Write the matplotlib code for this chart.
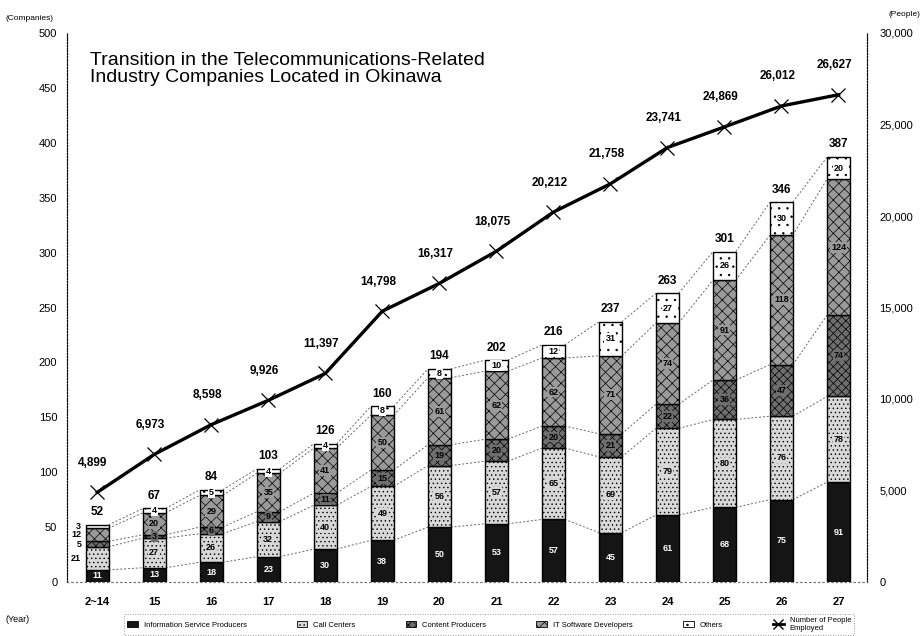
import numpy as np
import matplotlib
matplotlib.use('Agg')
import matplotlib.pyplot as plt
from matplotlib.patches import Patch
from matplotlib.lines import Line2D

plt.rcParams['font.family'] = ['Liberation Sans', 'DejaVu Sans']

years = ['2~14', '15', '16', '17', '18', '19', '20', '21', '22', '23', '24', '25', '26', '27']

# companies by segment, bottom to top
info_service = [11, 13, 18, 23, 30, 38, 50, 53, 57, 45, 61, 68, 75, 91]
call_centers = [21, 27, 26, 32, 40, 49, 56, 57, 65, 69, 79, 80, 76, 78]
content = [5, 3, 6, 9, 11, 15, 19, 20, 20, 21, 22, 36, 47, 74]
software = [12, 20, 29, 35, 41, 50, 61, 62, 62, 71, 74, 91, 118, 124]
others = [3, 4, 5, 4, 4, 8, 8, 10, 12, 31, 27, 26, 30, 20]
totals = [52, 67, 84, 103, 126, 160, 194, 202, 216, 237, 263, 301, 346, 387]

# number of people employed
people = [4899, 6973, 8598, 9926, 11397, 14798, 16317, 18075, 20212, 21758, 23741, 24869, 26012, 26627]

seg_names = ['Information Service Producers', 'Call Centers', 'Content Producers',
             'IT Software Developers', 'Others']
seg_colors = ['#151515', '#d8d8d8', '#6e6e6e', '#9a9a9a', '#ffffff']
seg_hatch = [None, '....', 'xxxx', 'xxx', '..']
seg_text = ['white', 'black', 'black', 'black', 'black']


def main():
    fig = plt.figure(figsize=(9.23, 6.36), dpi=100)
    # axes box: x 67..867 px, y 33..582 px
    ax = fig.add_axes([67 / 923, 54 / 636, 800 / 923, 549 / 636])
    ax2 = ax.twinx()

    x = np.arange(len(years))
    w = 0.40
    segs = [info_service, call_centers, content, software, others]

    plt.rcParams['hatch.color'] = '#444444'
    plt.rcParams['hatch.linewidth'] = 0.5

    bottom = np.zeros(len(years))
    levels = []
    for vals, col, hat, tc in zip(segs, seg_colors, seg_hatch, seg_text):
        vals = np.array(vals)
        ax.bar(x, vals, w, bottom=bottom, color=col, hatch=hat,
               edgecolor='black', linewidth=1.0, zorder=3)
        for i, v in enumerate(vals):
            yc = bottom[i] + v / 2
            if i == 0 and tc == 'black':
                # first bar is too thin, labels sit on the left
                ax.text(x[i] - w / 2 - 0.08, yc, str(v), ha='right', va='center',
                        fontsize=6.5, fontweight='bold')
            else:
                ax.text(x[i], yc, str(v), ha='center', va='center', fontsize=6.5,
                        fontweight='bold', color=tc, zorder=4,
                        bbox=dict(boxstyle='square,pad=0.1', fc=col, ec='none'))
        bottom = bottom + vals
        levels.append(bottom.copy())

    # dotted guides between neighbouring bars
    for lev in levels:
        for i in range(len(years) - 1):
            ax.plot([x[i] + w / 2, x[i + 1] - w / 2], [lev[i], lev[i + 1]],
                    ls=(0, (2, 2)), color='#666666', lw=0.7, zorder=2)

    for i, t in enumerate(totals):
        ax.text(x[i], t + 6, str(t), ha='center', va='bottom', fontsize=8.5,
                fontweight='bold')

    ax2.plot(x, people, color='black', lw=2.4, marker='x', ms=10, mew=0.9, zorder=5)
    for i, p in enumerate(people):
        ax2.annotate('{:,}'.format(p), (x[i], p), xytext=(-3, 17),
                     textcoords='offset points', ha='center', va='bottom',
                     fontsize=8.5, fontweight='bold')

    ax.set_xlim(-0.53, 13.5)
    ax.set_ylim(0, 500)
    ax.set_yticks(np.arange(0, 501, 50))
    ax2.set_ylim(0, 30000)
    ax2.set_yticks(np.arange(0, 30001, 5000))
    ax2.set_yticklabels(['{:,}'.format(v) for v in range(0, 30001, 5000)])
    ax.set_xticks(x)
    ax.set_xticklabels(years, fontweight='bold')

    for a in (ax, ax2):
        a.tick_params(axis='both', length=0, labelsize=8, pad=7)
        a.spines['top'].set_visible(False)
        a.spines['bottom'].set_linestyle((0, (1, 3)))
        a.spines['bottom'].set_color('#777777')
        a.spines['left'].set_linestyle((0, (1, 1.5)))
        a.spines['right'].set_linestyle((0, (1, 1.5)))
        a.spines['left'].set_linewidth(0.8)
        a.spines['right'].set_linewidth(0.8)
    ax.tick_params(axis='x', pad=11)
    ax2.tick_params(axis='y', pad=9)

    fig.text(0.006, 1 - 18 / 636, '(Companies)', fontsize=6, va='center')
    fig.text(0.997, 1 - 15 / 636, '(People)', fontsize=6, va='center', ha='right')
    fig.text(0.006, 1 - 620 / 636, '(Year)', fontsize=6.5, va='center')

    fig.text(90 / 923, 1 - 52 / 636,
             'Transition in the Telecommunications-Related\nIndustry Companies Located in Okinawa',
             fontsize=14, va='top', linespacing=1.0)

    handles = [Patch(facecolor=c, edgecolor='black', hatch=h, lw=0.6)
               for c, h in zip(seg_colors, seg_hatch)]
    handles.append(Line2D([], [], color='black', lw=2, marker='x', ms=7))
    labels = seg_names + ['Number of People\nEmployed']
    leg = fig.legend(handles, labels, loc='lower left', mode='expand',
                     bbox_to_anchor=(120 / 923, -0.004, 738 / 923, 0.035),
                     ncol=6, fontsize=5.5, frameon=True, handlelength=1.4,
                     handleheight=0.9, borderpad=0.4)
    leg.get_frame().set_linestyle((0, (1, 2)))
    leg.get_frame().set_edgecolor('#555555')
    leg.get_frame().set_linewidth(0.6)

    fig.savefig('out.png', dpi=100)
    plt.close()


if __name__ == '__main__':
    main()
